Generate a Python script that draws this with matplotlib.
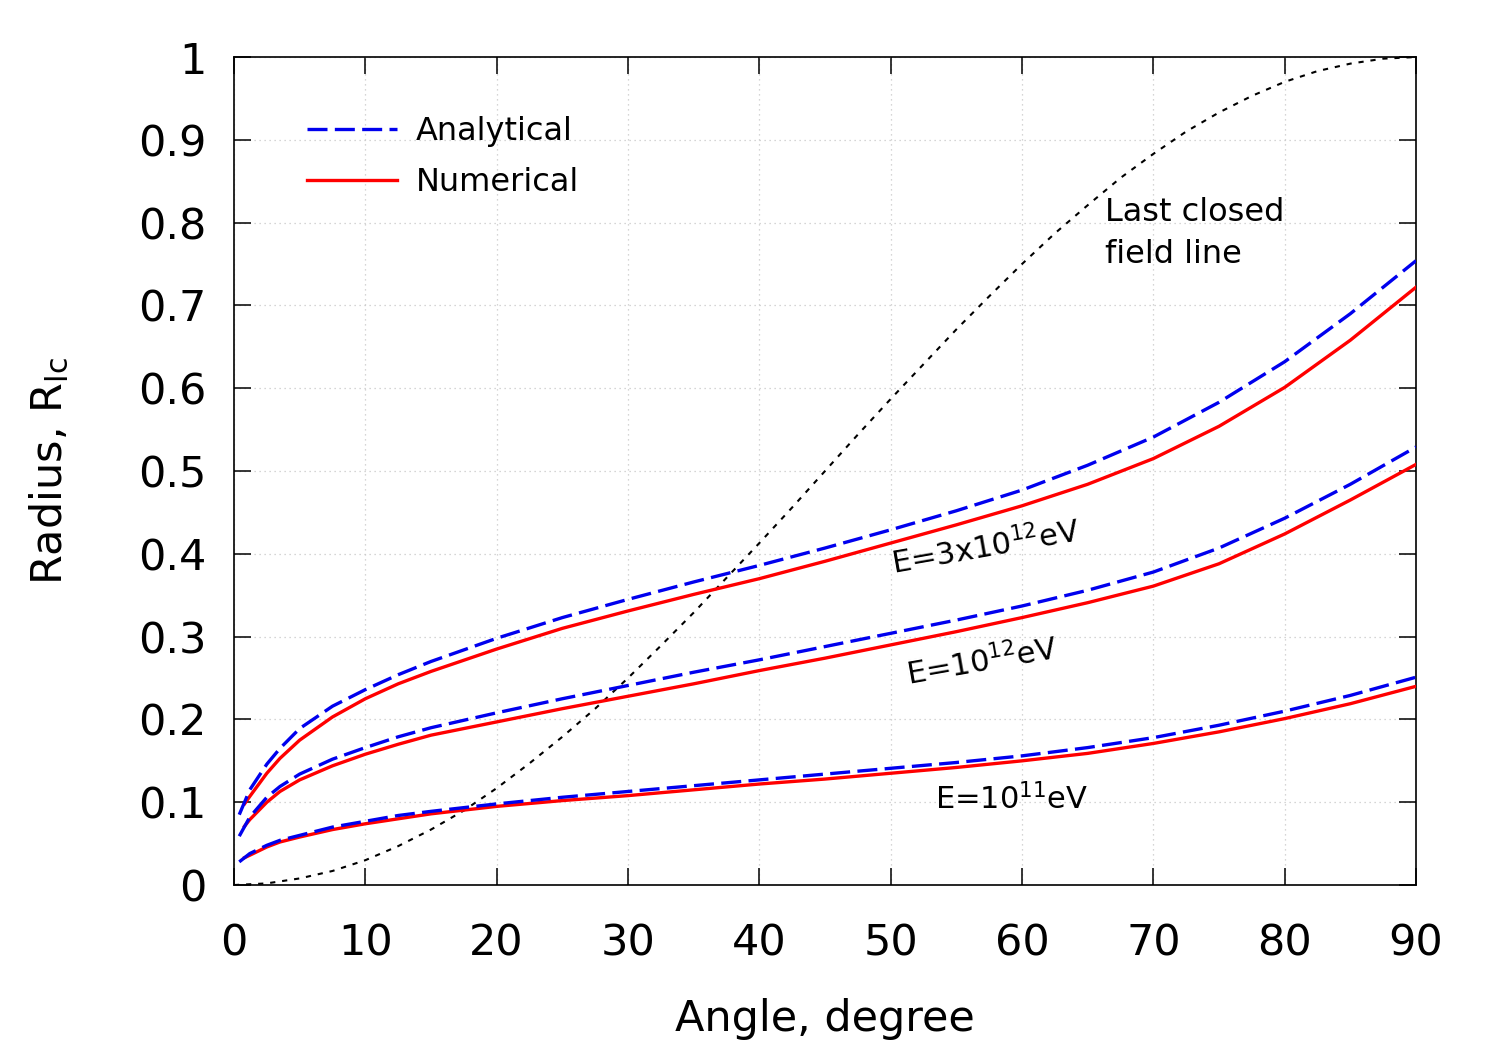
import matplotlib
matplotlib.use("Agg")
import matplotlib.pyplot as plt

# ---- data ----
x_analytical = [0.4, 1.2, 2.5, 3.5, 5, 7.5, 10, 12.5, 15, 20, 25, 30, 35, 40, 45, 50,
                55, 60, 65, 70, 75, 80, 85, 90]
x_numerical = [0.8, 1.2, 2.5, 3.5, 5, 7.5, 10, 12.5, 15, 20, 25, 30, 35, 40, 45, 50,
               55, 60, 65, 70, 75, 80, 85, 90]

ana_3e12 = [0.085, 0.115, 0.146, 0.165, 0.189, 0.216, 0.236, 0.254, 0.270, 0.298, 0.323,
            0.345, 0.366, 0.386, 0.407, 0.429, 0.452, 0.477, 0.507, 0.541, 0.583, 0.632,
            0.690, 0.754]
num_3e12 = [0.098, 0.107, 0.135, 0.153, 0.175, 0.203, 0.225, 0.243, 0.258, 0.285, 0.310,
            0.331, 0.351, 0.370, 0.391, 0.413, 0.435, 0.458, 0.484, 0.515, 0.554, 0.601,
            0.658, 0.722]

ana_1e12 = [0.059, 0.082, 0.106, 0.119, 0.134, 0.152, 0.166, 0.179, 0.190, 0.208, 0.225,
            0.241, 0.257, 0.272, 0.288, 0.304, 0.320, 0.337, 0.356, 0.378, 0.407, 0.443,
            0.484, 0.529]
num_1e12 = [0.071, 0.079, 0.100, 0.113, 0.127, 0.144, 0.158, 0.170, 0.181, 0.197, 0.213,
            0.228, 0.243, 0.259, 0.274, 0.290, 0.306, 0.323, 0.341, 0.361, 0.388, 0.424,
            0.465, 0.508]

ana_1e11 = [0.028, 0.038, 0.048, 0.054, 0.060, 0.070, 0.077, 0.084, 0.089, 0.098, 0.106,
            0.113, 0.120, 0.127, 0.134, 0.141, 0.148, 0.156, 0.166, 0.178, 0.193, 0.210,
            0.229, 0.251]
num_1e11 = [0.033, 0.036, 0.046, 0.052, 0.058, 0.067, 0.074, 0.080, 0.086, 0.095, 0.102,
            0.108, 0.115, 0.122, 0.128, 0.135, 0.142, 0.150, 0.159, 0.171, 0.185, 0.201,
            0.219, 0.240]

x_lcfl = [0, 2.5, 5, 7.5, 10, 12.5, 15, 17.5, 20, 22.5, 25, 27.5, 30, 32.5, 35, 37.5, 40,
          42.5, 45, 47.5, 50, 52.5, 55, 57.5, 60, 62.5, 65, 67.5, 70, 72.5, 75, 77.5, 80,
          82.5, 85, 87.5, 90]
lcfl = [0.0, 0.002, 0.008, 0.017, 0.030, 0.047, 0.067, 0.090, 0.117, 0.147, 0.179, 0.213,
        0.250, 0.289, 0.329, 0.371, 0.413, 0.456, 0.500, 0.544, 0.587, 0.629, 0.671, 0.711,
        0.750, 0.787, 0.821, 0.854, 0.883, 0.910, 0.933, 0.953, 0.970, 0.983, 0.992, 0.998,
        1.0]

x_ticks = [0, 10, 20, 30, 40, 50, 60, 70, 80, 90]
y_ticks = [0, 0.1, 0.2, 0.3, 0.4, 0.5, 0.6, 0.7, 0.8, 0.9, 1.0]
y_ticklabels = ["0", "0.1", "0.2", "0.3", "0.4", "0.5", "0.6", "0.7", "0.8", "0.9", "1"]

# ---- figure ----
plt.rcParams['font.family'] = ['DejaVu Sans']
plt.rcParams['mathtext.fontset'] = 'dejavusans'
fig = plt.figure(figsize=(15, 10.5), dpi=100)
ax = fig.add_axes([0.156, 0.1571, 0.788, 0.7886])

blue = '#0000ee'
red = '#ff0000'
lw = 2.4

ax.plot(x_lcfl, lcfl, color='black', lw=1.5, linestyle=(0, (2.5, 3.3)), zorder=2)

for xa, ya, xn, yn in [(x_analytical, ana_3e12, x_numerical, num_3e12),
                       (x_analytical, ana_1e12, x_numerical, num_1e12),
                       (x_analytical, ana_1e11, x_numerical, num_1e11)]:
    ax.plot(xn, yn, color=red, lw=lw, zorder=3)
    ax.plot(xa, ya, color=blue, lw=lw, linestyle=(0, (6, 2.2)), zorder=4)

# legend handles
h1, = ax.plot([], [], color=blue, lw=lw, linestyle=(0, (6, 2.2)), label='Analytical')
h2, = ax.plot([], [], color=red, lw=lw, label='Numerical')
leg = ax.legend(handles=[h1, h2], loc='upper left', bbox_to_anchor=(0.062, 0.929),
                frameon=False, fontsize=23, handlelength=2.8, handletextpad=0.6,
                labelspacing=0.63, borderpad=0, borderaxespad=0)

ax.set_xlim(0, 90)
ax.set_ylim(0, 1)
ax.set_xticks(x_ticks)
ax.set_xticklabels([str(t) for t in x_ticks])
ax.set_yticks(y_ticks)
ax.set_yticklabels(y_ticklabels)
ax.tick_params(axis='both', which='major', direction='in', length=12, width=1.1,
               labelsize=31, top=True, right=True)
ax.tick_params(axis='x', pad=27)
ax.tick_params(axis='y', pad=20)
ax.grid(True, color='#c8c8c8', linestyle=(0, (1, 3)), linewidth=0.9, zorder=0)
for s in ax.spines.values():
    s.set_linewidth(1.2)
    s.set_color('black')

ax.set_xlabel('Angle, degree', fontsize=31, labelpad=24)
ax.set_ylabel(r'Radius, R$_{\rm lc}$', fontsize=31, labelpad=48)

# annotations
ax.text(50.2, 0.3756, r'E=3x10$^{12}$eV', fontsize=22, rotation=10,
        rotation_mode='anchor', ha='left', va='baseline', zorder=5)
ax.text(51.35, 0.2407, r'E=10$^{12}$eV', fontsize=22, rotation=10,
        rotation_mode='anchor', ha='left', va='baseline', zorder=5)
ax.text(53.4, 0.0914, r'E=10$^{11}$eV', fontsize=22,
        ha='left', va='baseline', zorder=5)
ax.text(66.3, 0.802, 'Last closed', fontsize=23, ha='left', va='baseline', zorder=5)
ax.text(66.3, 0.7516, 'field line', fontsize=23, ha='left', va='baseline', zorder=5)

fig.savefig('out.png', dpi=100, facecolor='white')
